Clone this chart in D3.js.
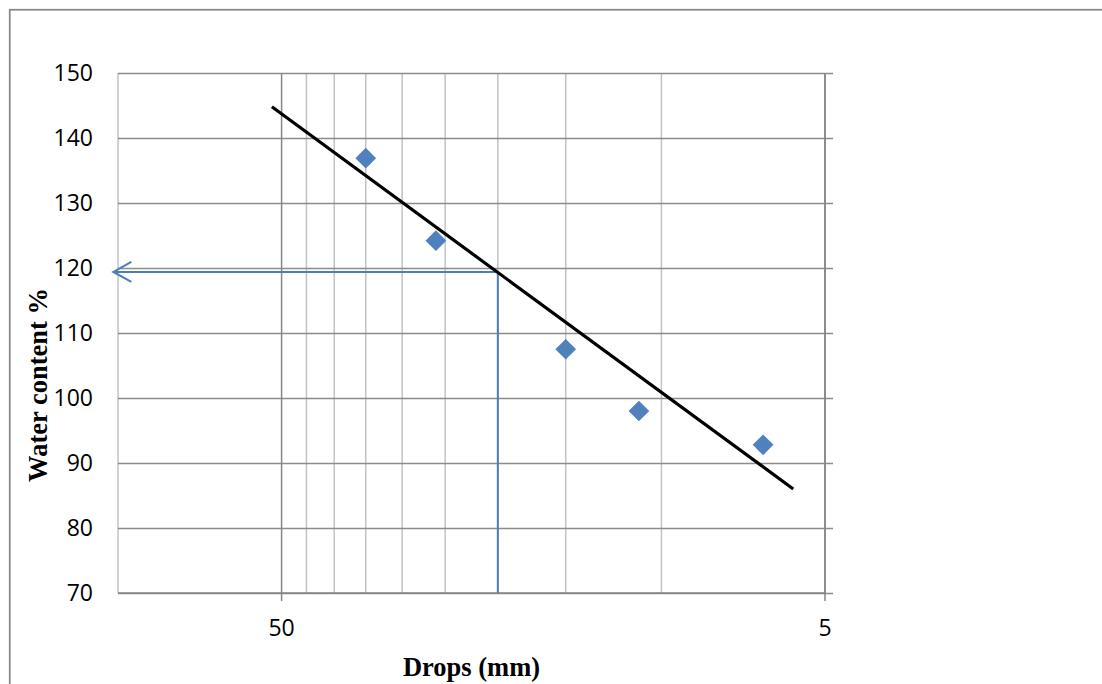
<!DOCTYPE html>
<html>
<head>
<meta charset="utf-8">
<script src="https://cdn.jsdelivr.net/npm/d3@7"></script>
<style>
  html, body { margin: 0; padding: 0; background: #fff; }
  svg { display: block; }
  .tick-label { font-family: "Open Sans", Lato, sans-serif; font-size: 23px; fill: #000; }
  .axis-title { font-family: "Liberation Serif", "Times New Roman", serif; font-weight: bold; font-size: 26.5px; fill: #000; }
</style>
</head>
<body>
<script>
// Liquid limit test: number of drops (log scale) vs water content
const drops = [35, 26, 15, 11, 6.5];
const waterContent = [136.9, 124.2, 107.5, 98.0, 92.8];

// Logarithmic trend line, drawn between its two end points
const trendDrops = [52.1, 5.72];
const trendWater = [144.8, 86.0];

// Reading of the water content at 20 drops
const readDrops = 20;
const readWater = 119.4;
const arrowTipDrops = 102;

const yTicks = [70, 80, 90, 100, 110, 120, 130, 140, 150];
const xMajorTicks = [50, 5];
const xMinorTicks = [10, 15, 20, 25, 30, 35, 40, 45, 100];

const W = 1102, H = 684;
const plot = { left: 118, right: 825, top: 73, bottom: 593 };

const svg = d3.select("body").append("svg").attr("width", W).attr("height", H);

// chart frame
svg.append("rect")
  .attr("x", 9.75).attr("y", 9.75)
  .attr("width", W + 20).attr("height", H + 20)
  .attr("fill", "none").attr("stroke", "#888").attr("stroke-width", 1.75);

const x = d3.scaleLog().domain([100, 5]).range([plot.left, plot.right]);
const y = d3.scaleLinear().domain([70, 150]).range([plot.bottom, plot.top]);

// minor vertical gridlines
svg.append("g").selectAll("line").data(xMinorTicks).join("line")
  .attr("x1", d => x(d)).attr("x2", d => x(d))
  .attr("y1", plot.top).attr("y2", plot.bottom)
  .attr("stroke", "#c3c3c3").attr("stroke-width", 1.5);

// horizontal gridlines with outward ticks on the right-hand axis
const yGrid = svg.append("g").attr("transform", `translate(${plot.right + 8},0)`)
  .call(d3.axisLeft(y).tickValues(yTicks).tickSize(plot.right + 8 - plot.left).tickFormat(""));
yGrid.select(".domain").remove();
yGrid.selectAll(".tick line").attr("stroke", "#8c8c8c").attr("stroke-width", 1.5);

// major vertical gridlines with outward ticks below the x axis
svg.append("g").selectAll("line").data(xMajorTicks).join("line")
  .attr("x1", d => x(d)).attr("x2", d => x(d))
  .attr("y1", plot.top).attr("y2", plot.bottom + 8)
  .attr("stroke", "#868686").attr("stroke-width", 1.5);

// axis lines
svg.append("line")
  .attr("x1", plot.left).attr("x2", plot.right)
  .attr("y1", y(70)).attr("y2", y(70))
  .attr("stroke", "#868686").attr("stroke-width", 1.5);
svg.append("line")
  .attr("x1", x(5)).attr("x2", x(5))
  .attr("y1", plot.top).attr("y2", plot.bottom)
  .attr("stroke", "#868686").attr("stroke-width", 1.5);

// y tick labels
svg.append("g").selectAll("text").data(yTicks).join("text")
  .attr("class", "tick-label")
  .attr("x", 93).attr("y", d => y(d))
  .attr("dy", "0.35em")
  .attr("text-anchor", "end")
  .text(d => d);

// x tick labels
svg.append("g").selectAll("text").data(xMajorTicks).join("text")
  .attr("class", "tick-label")
  .attr("x", d => x(d)).attr("y", 636)
  .attr("text-anchor", "middle")
  .text(d => d);

// axis titles
svg.append("text").attr("class", "axis-title")
  .attr("x", (plot.left + plot.right) / 2).attr("y", 676)
  .attr("text-anchor", "middle")
  .text("Drops (mm)");
svg.append("text").attr("class", "axis-title")
  .attr("transform", "translate(47,385) rotate(-90)")
  .attr("text-anchor", "middle")
  .text("Water content %");

// reading lines with arrowhead
const defs = svg.append("defs");
defs.append("marker")
  .attr("id", "open-arrow")
  .attr("viewBox", "-20 -12 22 24")
  .attr("refX", 0).attr("refY", 0)
  .attr("markerWidth", 22).attr("markerHeight", 24)
  .attr("markerUnits", "userSpaceOnUse")
  .attr("orient", "auto")
  .append("path")
  .attr("d", "M-18,-10L0,0L-18,10")
  .attr("fill", "none").attr("stroke", "#4a7ebb").attr("stroke-width", 2);

svg.append("line")
  .attr("x1", x(readDrops)).attr("x2", x(readDrops))
  .attr("y1", y(readWater)).attr("y2", y(70))
  .attr("stroke", "#4a7ebb").attr("stroke-width", 2);
svg.append("line")
  .attr("x1", x(readDrops)).attr("x2", x(arrowTipDrops))
  .attr("y1", y(readWater)).attr("y2", y(readWater))
  .attr("stroke", "#4a7ebb").attr("stroke-width", 2)
  .attr("marker-end", "url(#open-arrow)");

// trend line
const trend = trendDrops.map((d, i) => [d, trendWater[i]]);
svg.append("path")
  .datum(trend)
  .attr("d", d3.line().x(d => x(d[0])).y(d => y(d[1])))
  .attr("fill", "none").attr("stroke", "#000").attr("stroke-width", 3.2);

// data points
const points = drops.map((d, i) => [d, waterContent[i]]);
svg.append("g").selectAll("path").data(points).join("path")
  .attr("transform", d => `translate(${x(d[0])},${y(d[1])}) rotate(45)`)
  .attr("d", d3.symbol(d3.symbolSquare, 215))
  .attr("fill", "#4f81bd");
</script>
</body>
</html>
